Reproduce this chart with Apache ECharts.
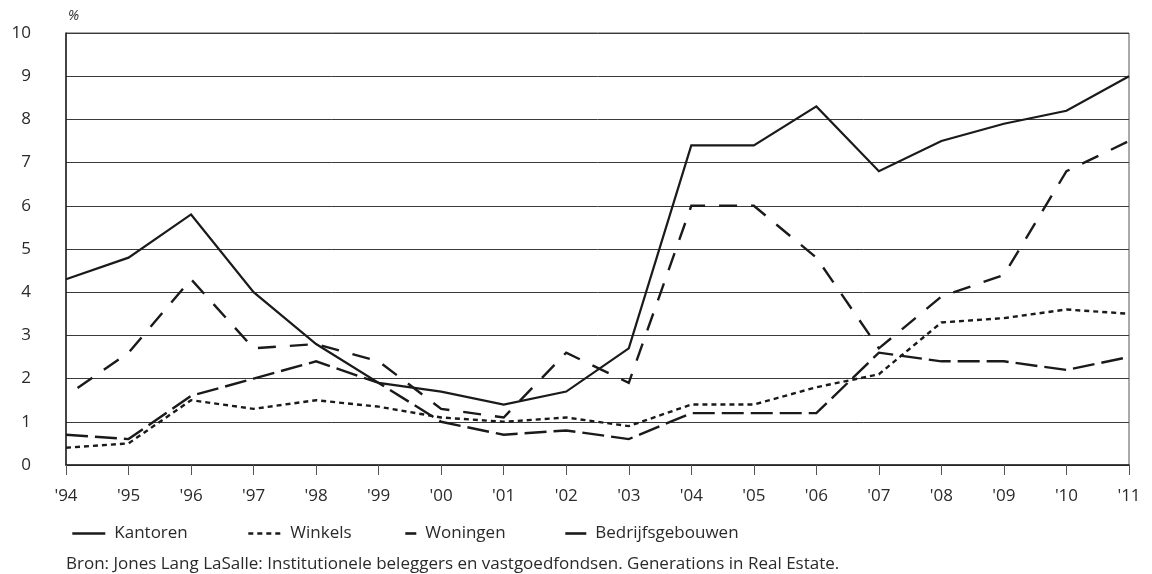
<!DOCTYPE html>
<html>
<head>
<meta charset="utf-8">
<script src="https://cdn.jsdelivr.net/npm/echarts@6/dist/echarts.min.js"></script>
<style>html,body{margin:0;padding:0;background:#fff;}#c{width:1152px;height:574px;}</style>
</head>
<body>
<div id="c"></div>
<script>
const categories = ["'94","'95","'96","'97","'98","'99","'00","'01","'02","'03","'04","'05","'06","'07","'08","'09","'10","'11"];
const kantoren = [4.3,4.8,5.8,4.0,2.8,1.9,1.7,1.4,1.7,2.7,7.4,7.4,8.3,6.8,7.5,7.9,8.2,9.0];
const winkels = [0.4,0.5,1.5,1.3,1.5,1.35,1.1,1.0,1.1,0.9,1.4,1.4,1.8,2.1,3.3,3.4,3.6,3.5];
const woningen = [1.6,2.6,4.3,2.7,2.8,2.4,1.3,1.1,2.6,1.9,6.0,6.0,4.8,2.7,3.9,4.4,6.8,7.5];
const bedrijfsgebouwen = [0.7,0.6,1.6,2.0,2.4,1.9,1.0,0.7,0.8,0.6,1.2,1.2,1.2,2.6,2.4,2.4,2.2,2.5];
const seriesNames = ['Kantoren','Winkels','Woningen','Bedrijfsgebouwen'];
const yTicks = [0,1,2,3,4,5,6,7,8,9,10];
const sourceText = 'Bron: Jones Lang LaSalle: Institutionele beleggers en vastgoedfondsen. Generations in Real Estate.';

const FONT = '"Open Sans", sans-serif';
const TXT = '#2a2a2a';
const LINE = '#1a1a1a';

const chart = echarts.init(document.getElementById('c'), null, {renderer:'canvas'});

function mkSeries(name, data, type, width, offset) {
  return {
    name: name, type: 'line', data: data, symbol: 'none', showSymbol: false, smooth: false,
    lineStyle: {color: LINE, width: width, type: type, dashOffset: offset || 0, cap: 'butt', join: 'miter'},
    itemStyle: {color: LINE},
    emphasis: {disabled: true},
    animation: false
  };
}

function mkLegend(name, left, w) {
  return {
    data: [name], left: left, top: 520, itemWidth: w, itemHeight: 14,
    itemStyle: {color: 'transparent', borderColor: 'transparent', borderWidth: 0, opacity: 0},
    lineStyle: {width: 2.6},
    textStyle: {fontFamily: FONT, fontSize: 17, color: TXT, padding: [0,0,0,4]},
    selectedMode: false
  };
}

chart.setOption({
  animation: false,
  backgroundColor: '#fff',
  grid: {left: 66, right: 23, top: 33, bottom: 109, show: true, borderColor: '#555', borderWidth: 1, backgroundColor: 'transparent'},
  legend: [
    mkLegend(seriesNames[0], 66, 33),
    mkLegend(seriesNames[1], 242, 33),
    mkLegend(seriesNames[2], 385, 25),
    mkLegend(seriesNames[3], 559, 21)
  ],
  xAxis: {
    type: 'category', data: categories, boundaryGap: false,
    axisLine: {show: true, lineStyle: {color: '#222', width: 1.5}},
    axisTick: {show: true, length: 10, inside: false, alignWithLabel: true, lineStyle: {color: '#555', width: 1}},
    axisLabel: {fontFamily: FONT, fontSize: 17, color: TXT, margin: 23},
    splitLine: {show: false}
  },
  yAxis: {
    type: 'value', min: 0, max: 10, interval: 1,
    axisLine: {show: true, lineStyle: {color: '#222', width: 1.5}},
    axisTick: {show: false},
    axisLabel: {fontFamily: FONT, fontSize: 17, color: TXT, margin: 35, padding: [0,0,7,0],
      formatter: function(v){ return yTicks.indexOf(v) >= 0 ? String(v) : ''; }},
    splitLine: {show: true, lineStyle: {color: '#3a3a3a', width: 1}}
  },
  graphic: [
    {type: 'text', left: 68, top: 9, style: {text: '%', font: 'italic 14px "Open Sans", sans-serif', fill: TXT}},
    {type: 'text', left: 66, top: 556, style: {text: sourceText, font: '17px "Open Sans", sans-serif', fill: TXT}}
  ],
  series: [
    mkSeries(seriesNames[0], kantoren, 'solid', 2.2),
    mkSeries(seriesNames[1], winkels, [5,4], 2.4),
    mkSeries(seriesNames[2], woningen, [18,14], 2.4, 18),
    mkSeries(seriesNames[3], bedrijfsgebouwen, [22,7], 2.4)
  ]
});
</script>
</body>
</html>
